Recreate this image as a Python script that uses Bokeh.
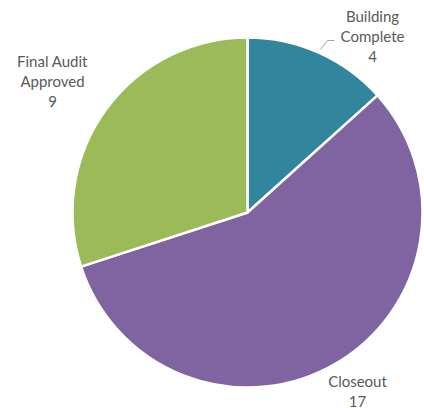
import math
from bokeh.plotting import figure
from bokeh.models import Range1d, ColumnDataSource
from bokeh.core.properties import value
from bokeh.embed import file_html
from bokeh.resources import INLINE

categories = ["Building Complete", "Closeout", "Final Audit Approved"]
counts = [4, 17, 9]
colors = ["#31859C", "#8064A2", "#9BBB59"]

# label text lines per category
label_lines = [["Building", "Complete"], ["Closeout"], ["Final Audit", "Approved"]]

# layout (screen pixel coords)
W, H = 424, 408
CX, CY, R = 247, 212, 175
label_pos = [(372, 15), (357, 380), (52, 60)]
LINE_H = 20.5

total = sum(counts)
starts, ends = [], []
a = math.pi / 2
for c in counts:
    starts.append(a)
    a -= c / total * 2 * math.pi
    ends.append(a)

p = figure(width=W, height=H, output_backend="svg", toolbar_location=None,
           x_range=Range1d(0, W), y_range=Range1d(-H, 0), min_border=0)
p.axis.visible = False
p.grid.visible = False
p.outline_line_color = None
p.background_fill_color = "white"
p.border_fill_color = "white"

src = ColumnDataSource(dict(x=[CX] * len(counts), y=[-CY] * len(counts),
                            start=starts, end=ends, color=colors))
p.wedge(x="x", y="y", radius=R, start_angle="start", end_angle="end",
        direction="clock", fill_color="color", line_color="white",
        line_width=2.5, source=src)

# leader line for Building Complete
p.line(x=[320, 327, 334], y=[-49, -40, -40], line_color="#A6A6A6", line_width=1)

tx, ty, tt = [], [], []
for lines, cnt, (lx, ly) in zip(label_lines, counts, label_pos):
    for i, t in enumerate(lines + [str(cnt)]):
        tx.append(lx)
        ty.append(-(ly + i * LINE_H))
        tt.append(t)
p.text(x=tx, y=ty, text=tt, text_align="center", text_baseline="middle",
       text_font=value("Lato"), text_font_size="15px", text_color="#595959")

open("out.html", "w").write(file_html(p, INLINE))
